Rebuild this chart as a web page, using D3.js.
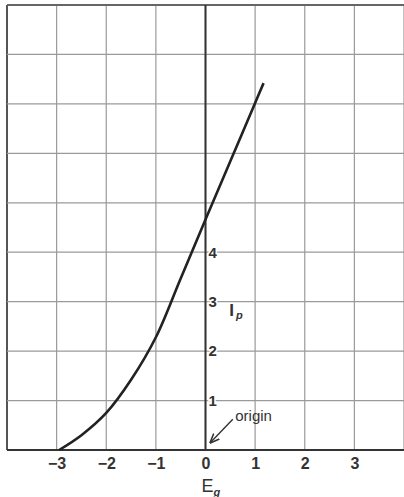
<!DOCTYPE html>
<html>
<head>
<meta charset="utf-8">
<script src="https://cdn.jsdelivr.net/npm/d3@7"></script>
<style>
  body { margin: 0; background: #fff; }
  svg { display: block; font-family: "Liberation Sans", Arial, sans-serif; }
</style>
</head>
<body>
<div id="chart"></div>
<script>
// grid voltage (Eg) vs plate current (Ip)
var gridVolts = [-2.95, -2.5, -2, -1.5, -1, -0.5, 0, 0.5, 1, 1.17];
var plateCurrent = [0, 0.3, 0.75, 1.42, 2.28, 3.47, 4.66, 5.84, 7.02, 7.42];

var xTicks = [-3, -2, -1, 0, 1, 2, 3];
var yTicks = [1, 2, 3, 4];
var xGrid = [-4, -3, -2, -1, 0, 1, 2, 3, 4];
var yGrid = [0, 1, 2, 3, 4, 5, 6, 7, 8, 9];

var W = 404, H = 497;

var svg = d3.select("#chart").append("svg")
    .attr("width", W)
    .attr("height", H);

var x = d3.scaleLinear().domain([-4, 4]).range([7, 404]);
var y = d3.scaleLinear().domain([0, 9]).range([450, 5]);

// grid
svg.append("g")
    .selectAll("line.v")
    .data(xGrid)
    .enter().append("line")
    .attr("x1", function(d) { return x(d); })
    .attr("x2", function(d) { return x(d); })
    .attr("y1", y(9))
    .attr("y2", y(0))
    .style("stroke", function(d) { return d == -4 ? "#555" : "#9a9a9a"; })
    .style("stroke-width", function(d) { return d == -4 ? 2 : 1.2; });

svg.append("g")
    .selectAll("line.h")
    .data(yGrid)
    .enter().append("line")
    .attr("x1", x(-4))
    .attr("x2", x(4))
    .attr("y1", function(d) { return y(d); })
    .attr("y2", function(d) { return y(d); })
    .style("stroke", function(d) { return d == 9 ? "#666" : "#9a9a9a"; })
    .style("stroke-width", function(d) { return d == 9 ? 1.8 : 1.2; });

// main axes
svg.append("line")
    .attr("x1", x(0)).attr("x2", x(0))
    .attr("y1", y(9)).attr("y2", y(0))
    .style("stroke", "#333").style("stroke-width", 2);

svg.append("line")
    .attr("x1", x(-4)).attr("x2", x(4))
    .attr("y1", y(0)).attr("y2", y(0))
    .style("stroke", "#333").style("stroke-width", 2.2);

// x tick labels
var xAxis = d3.axisBottom(x).tickValues(xTicks).tickSize(0).tickPadding(6);
var gx = svg.append("g")
    .attr("transform", "translate(0," + y(0) + ")")
    .call(xAxis);
gx.select(".domain").remove();
gx.selectAll("text")
    .style("font-size", "16px")
    .style("font-weight", "bold")
    .style("fill", "#333")
    .attr("dy", "0.8em");

// y tick labels, right of the Eg = 0 line
var yAxis = d3.axisRight(y).tickValues(yTicks).tickSize(0).tickPadding(3);
var gy = svg.append("g")
    .attr("transform", "translate(" + x(0) + ",0)")
    .call(yAxis);
gy.select(".domain").remove();
gy.selectAll("text")
    .style("font-size", "15px")
    .style("font-weight", "bold")
    .style("fill", "#333")
    .style("stroke", "#fff")
    .style("stroke-width", 3)
    .style("paint-order", "stroke");

// curve
var line = d3.line()
    .x(function(d, i) { return x(gridVolts[i]); })
    .y(function(d) { return y(d); })
    .curve(d3.curveCatmullRom.alpha(0.5));

svg.append("path")
    .datum(plateCurrent)
    .attr("d", line)
    .style("fill", "none")
    .style("stroke", "#222")
    .style("stroke-width", 2.6);

// Ip label
var ip = svg.append("text")
    .attr("x", x(0.48))
    .attr("y", y(2.72))
    .style("font-size", "17px")
    .style("font-weight", "bold")
    .style("fill", "#333");
ip.append("tspan").text("I");
ip.append("tspan")
    .attr("dx", 2)
    .attr("dy", 3)
    .style("font-size", "11px")
    .style("font-style", "italic")
    .text("p");

// Eg label
var eg = svg.append("text")
    .attr("x", x(0) - 4)
    .attr("y", 492)
    .style("font-size", "18px")
    .style("fill", "#333");
eg.append("tspan").text("E");
eg.append("tspan")
    .attr("dy", 4)
    .style("font-size", "11px")
    .style("font-weight", "bold")
    .style("font-style", "italic")
    .text("g");

// origin annotation
svg.append("defs").append("marker")
    .attr("id", "arrow")
    .attr("viewBox", "0 0 10 10")
    .attr("refX", 9).attr("refY", 5)
    .attr("markerWidth", 7).attr("markerHeight", 7)
    .attr("orient", "auto")
    .append("path")
    .attr("d", "M0,1 L10,5 L0,9")
    .style("fill", "none")
    .style("stroke", "#333")
    .style("stroke-width", 1.6);

svg.append("line")
    .attr("x1", x(0.55)).attr("y1", y(0.62))
    .attr("x2", x(0.1)).attr("y2", y(0.15))
    .style("stroke", "#333")
    .style("stroke-width", 1.4)
    .attr("marker-end", "url(#arrow)");

svg.append("text")
    .attr("x", x(0.6))
    .attr("y", y(0.58))
    .style("font-size", "15px")
    .style("fill", "#333")
    .text("origin");
</script>
</body>
</html>
